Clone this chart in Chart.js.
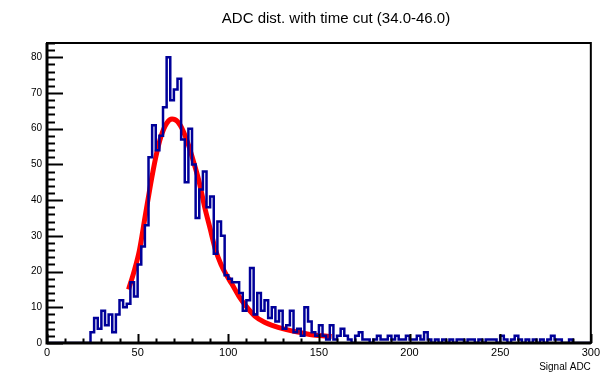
<!DOCTYPE html>
<html><head><meta charset="utf-8">
<script src="https://cdn.jsdelivr.net/npm/chart.js@4"></script>
<style>html,body{margin:0;padding:0;background:#fff;}</style>
</head><body>
<canvas id="c" width="603" height="373"></canvas>
<script>
const chartTitle = 'ADC dist. with time cut (34.0-46.0)';
const xAxisTitle = 'Signal ADC';
const xMin = 0, xMax = 300, binWidth = 2;
const yMin = 0, yMax = 84;
const xTickValues = [0, 50, 100, 150, 200, 250, 300];
const yTickValues = [0, 10, 20, 30, 40, 50, 60, 70, 80];

// counts per 2-ADC bin, from 0 to 300
const counts = [
  0,0,0,0,0,0,0,0,0,0,0,0,
  3,7,4,9,5,8,3,8,12,10,11,17,13,22,27,33,52,61,
  54,58,66,80,68,71,74,57,45,60,50,35,43,48,38,41,25,34,30,19,
  18,17,17,14,9,12,21,8,14,9,12,7,10,6,9,4,5,9,3,4,
  2,10,6,3,2,5,2,1,5,1,2,4,2,1,0,2,3,1,1,0,
  1,2,1,1,2,1,2,1,1,2,1,1,2,1,3,1,0,1,0,1,
  0,1,0,1,1,0,1,1,0,1,0,1,1,1,0,2,1,0,1,2,
  1,0,1,0,1,0,1,0,1,2,1,1,0,0,1,0,0,0,0,0
];

// fit curve
const fitX = [45, 48, 51, 54, 57, 60, 63, 66, 69, 72, 75, 78, 81, 84, 87, 90, 93, 96, 99, 102, 106, 110, 115, 120, 125, 130, 135, 140, 145, 150, 157];
const fitY = [15, 20, 26, 35, 44, 52, 58, 61.5, 62.7, 62, 59.5, 55.5, 50.5, 45, 38, 32, 26, 22, 19, 16.5, 13, 10.2, 7.4, 5.8, 4.8, 4.0, 3.4, 2.9, 2.4, 2.1, 1.8];

const histPoints = counts.map((c, i) => ({x: xMin + i * binWidth, y: c}));
histPoints.push({x: xMax, y: 0});
const fitPoints = fitX.map((x, i) => ({x: x, y: fitY[i]}));

const FONT = 'Liberation Sans, Arial, Helvetica, sans-serif';

const rootFrame = {
  id: 'rootFrame',
  afterDatasetsDraw(chart) {
    const {ctx, chartArea: a, scales: {x, y}} = chart;
    ctx.save();
    ctx.strokeStyle = '#000';
    ctx.lineWidth = 2;
    ctx.strokeRect(a.left, a.top, a.right - a.left, a.bottom - a.top);
    ctx.lineWidth = 3;
    ctx.beginPath();
    ctx.moveTo(a.left, a.top); ctx.lineTo(a.left, a.bottom); ctx.lineTo(a.right, a.bottom);
    ctx.stroke();
    ctx.lineWidth = 2;
    ctx.beginPath();
    for (let v = yMin; v <= yMax; v += 2) {
      const py = Math.round(y.getPixelForValue(v)) + 0.5;
      const len = (v % 10 === 0) ? 16 : 8;
      ctx.moveTo(a.left, py); ctx.lineTo(a.left + len, py);
    }
    for (let v = xMin; v <= xMax; v += 10) {
      const px = Math.round(x.getPixelForValue(v)) + 0.5;
      const len = (v % 50 === 0) ? 9 : 4.5;
      ctx.moveTo(px, a.bottom); ctx.lineTo(px, a.bottom - len);
    }
    ctx.stroke();
    // pad title (ROOT places it right of the frame centre in this picture)
    ctx.fillStyle = '#000';
    ctx.font = '15px ' + FONT;
    ctx.textAlign = 'center';
    ctx.textBaseline = 'middle';
    ctx.fillText(chartTitle, 336, 18.5);
    ctx.restore();
  }
};

new Chart(document.getElementById('c'), {
  type: 'line',
  data: {
    datasets: [
      {data: histPoints, borderColor: '#000099', borderWidth: 2.5, stepped: true, pointRadius: 0, fill: false},
      {data: fitPoints, borderColor: '#ff0000', borderWidth: 5, pointRadius: 0, cubicInterpolationMode: 'monotone', fill: false}
    ]
  },
  options: {
    responsive: false, animation: false, devicePixelRatio: 1,
    layout: {padding: {left: 0, right: 11, top: 43, bottom: 0}},
    plugins: {
      legend: {display: false}, tooltip: {enabled: false}, title: {display: false}
    },
    scales: {
      x: {
        type: 'linear', min: xMin, max: xMax,
        afterBuildTicks: s => { s.ticks = xTickValues.map(v => ({value: v})); },
        afterFit: s => { s.height = 30; },
        grid: {display: false, drawTicks: false},
        border: {display: false},
        ticks: {padding: 3, color: '#000', font: {family: FONT, size: 11}, maxRotation: 0, autoSkip: false},
        title: {display: true, text: xAxisTitle, align: 'end', color: '#000',
          font: {family: FONT, size: 10}, padding: {top: 0, bottom: 0}}
      },
      y: {
        type: 'linear', min: yMin, max: yMax,
        afterBuildTicks: s => { s.ticks = yTickValues.map(v => ({value: v})); },
        afterFit: s => { s.width = 47; },
        grid: {display: false, drawTicks: false},
        border: {display: false},
        ticks: {padding: 5, color: '#000', font: {family: FONT, size: 10}, autoSkip: false}
      }
    }
  },
  plugins: [rootFrame]
});
</script>
</body></html>
